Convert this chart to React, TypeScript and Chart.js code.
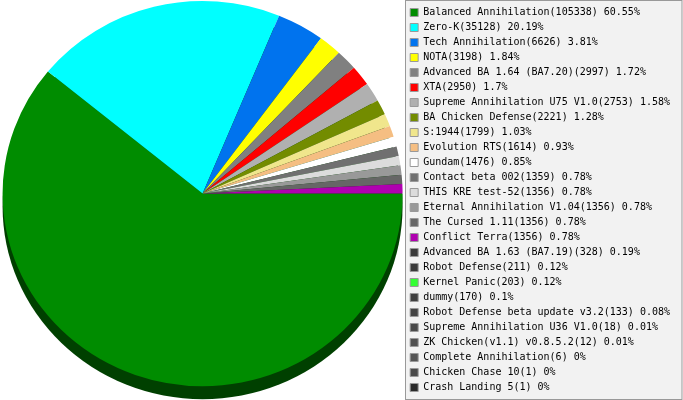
import React, { useEffect, useRef } from "react";
import { Chart, registerables } from "chart.js";

Chart.register(...registerables);

const categories = [
  "Balanced Annihilation",
  "Zero-K",
  "Tech Annihilation",
  "NOTA",
  "Advanced BA 1.64 (BA7.20)",
  "XTA",
  "Supreme Annihilation U75 V1.0",
  "BA Chicken Defense",
  "S:1944",
  "Evolution RTS",
  "Gundam",
  "Contact beta 002",
  "THIS KRE test-52",
  "Eternal Annihilation V1.04",
  "The Cursed 1.11",
  "Conflict Terra",
  "Advanced BA 1.63 (BA7.19)",
  "Robot Defense",
  "Kernel Panic",
  "dummy",
  "Robot Defense beta update v3.2",
  "Supreme Annihilation U36 V1.0",
  "ZK Chicken(v1.1) v0.8.5.2",
  "Complete Annihilation",
  "Chicken Chase 10",
  "Crash Landing 5",
];

const values = [
  105338, 35128, 6626, 3198, 2997, 2950, 2753, 2221, 1799, 1614, 1476, 1359,
  1356, 1356, 1356, 1356, 328, 211, 203, 170, 133, 18, 12, 6, 1, 1,
];

const colors = [
  "#008c00",
  "#00ffff",
  "#0073ee",
  "#ffff00",
  "#808080",
  "#ff0000",
  "#b0b0b0",
  "#738c00",
  "#f0e68c",
  "#f5be82",
  "#ffffff",
  "#707070",
  "#dcdcdc",
  "#999999",
  "#666666",
  "#b000b0",
  "#3a3a3a",
  "#3a3a3a",
  "#33ff33",
  "#404040",
  "#444444",
  "#4a4a4a",
  "#505050",
  "#555555",
  "#4a4a4a",
  "#2a2a2a",
];

// slices whose share is below this (in %) are not drawn in the pie (too thin)
const MIN_SHARE = 0.5;
const SHADOW_COLOR = "#004000";
const TILT = 0.963;
const DEPTH = 13;

const total = values.reduce((a, b) => a + b, 0);
const pct = (v: number) => Math.round((v / total) * 10000) / 100;
const labelTexts = categories.map((c, i) => `${c}(${values[i]}) ${pct(values[i])}%`);

const tiltPlugin = {
  id: "tilt",
  beforeDraw(chart: any) {
    const lg = chart.legend;
    if (!lg) return;
    const ctx = chart.ctx;
    ctx.save();
    ctx.fillStyle = "#f2f2f2";
    ctx.strokeStyle = "#999999";
    ctx.lineWidth = 1;
    const x = Math.round(lg.left) + 0.5;
    const w = chart.width - 1 - x;
    ctx.fillRect(x, 0.5, w, chart.height - 1);
    ctx.strokeRect(x, 0.5, w, chart.height - 1);
    ctx.restore();
  },
  beforeDatasetsDraw(chart: any) {
    const arc = chart.getDatasetMeta(0).data[0];
    if (!arc) return;
    const { x, y, outerRadius } = arc as any;
    const ctx = chart.ctx;
    const top = y - outerRadius + 1;
    ctx.save();
    ctx.fillStyle = SHADOW_COLOR;
    ctx.beginPath();
    ctx.ellipse(x, top + outerRadius * TILT + DEPTH, outerRadius, outerRadius * TILT, 0, 0, Math.PI * 2);
    ctx.fill();
    ctx.translate(0, top);
    ctx.scale(1, TILT);
    ctx.translate(0, -(y - outerRadius));
  },
  afterDatasetsDraw(chart: any) {
    chart.ctx.restore();
  },
};

export default function App() {
  const ref = useRef<HTMLCanvasElement | null>(null);

  useEffect(() => {
    document.body.style.margin = "0";
    const canvas = ref.current;
    if (!canvas) return;
    const chart = new Chart(canvas, {
      type: "pie",
      data: {
        labels: categories,
        datasets: [
          {
            data: values,
            backgroundColor: colors,
            borderWidth: 0,
          },
        ],
      },
      options: {
        animation: false,
        responsive: false,
        rotation: 90,
        layout: { padding: { right: 3 } },
        plugins: {
          tooltip: { enabled: false },
          legend: {
            position: "right",
            align: "center",
            labels: {
              boxWidth: 8,
              boxHeight: 8,
              padding: 5,
              color: "#000",
              font: { family: "'DejaVu Sans Mono', monospace", size: 10 },
              generateLabels: () =>
                labelTexts.map((t, i) => ({
                  text: t,
                  fillStyle: colors[i],
                  strokeStyle: "#999999",
                  lineWidth: 1,
                  hidden: false,
                  index: i,
                })),
            },
          },
        },
      },
      plugins: [tiltPlugin],
    });
    values.forEach((v, i) => {
      if ((v / total) * 100 < MIN_SHARE) chart.toggleDataVisibility(i);
    });
    chart.update("none");
    return () => chart.destroy();
  }, []);

  return (
    <div style={{ position: "absolute", left: 0, top: 0, width: 683, height: 400 }}>
      <canvas ref={ref} width={683} height={400} />
    </div>
  );
}
